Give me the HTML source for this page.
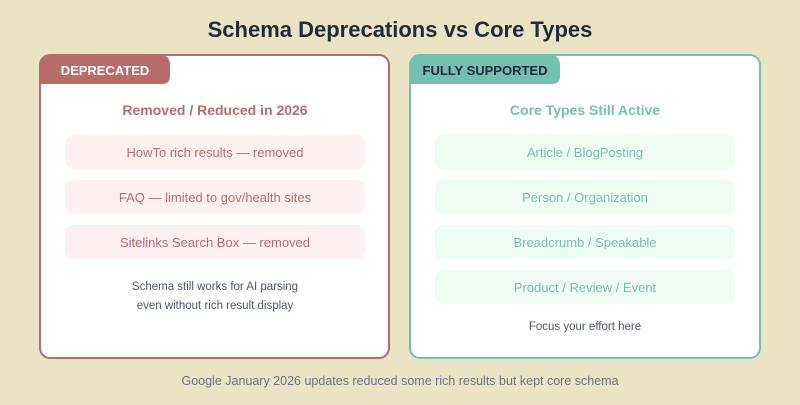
<!DOCTYPE html>
<html><head><style>body{margin:0;background:#ebe4c4}</style></head><body>
<svg width="800" height="400" xmlns="http://www.w3.org/2000/svg" font-family="Liberation Sans, sans-serif">
<rect width="800" height="400" fill="#ebe4c4"/>
<text x="400" y="37" text-anchor="middle" font-size="22" font-weight="bold" fill="#1f2a3a">Schema Deprecations vs Core Types</text>
<rect x="40" y="55" width="349" height="303" rx="10" fill="#fff" stroke="#b86b6b" stroke-width="2"/>
<path d="M50 55 H160 Q170 55 170 65 V76 Q170 84 162 84 H40 V65 Q40 55 50 55 Z" fill="#b86b6b"/>
<text x="105" y="75" text-anchor="middle" font-size="13" font-weight="bold" fill="#fff">DEPRECATED</text>
<text x="215" y="115" text-anchor="middle" font-size="14" font-weight="bold" fill="#b86b6b">Removed / Reduced in 2026</text>
<g fill="#fdf0f0"><rect x="65" y="135" width="300" height="34" rx="8"/><rect x="65" y="180" width="300" height="34" rx="8"/><rect x="65" y="225" width="300" height="34" rx="8"/></g>
<g font-size="13" fill="#b86b6b" text-anchor="middle"><text x="215" y="157">HowTo rich results — removed</text><text x="215" y="202">FAQ — limited to gov/health sites</text><text x="215" y="247">Sitelinks Search Box — removed</text></g>
<g font-size="11.5" fill="#4a5568" text-anchor="middle"><text x="215" y="290">Schema still works for AI parsing</text><text x="215" y="309">even without rich result display</text></g>
<rect x="410" y="55" width="350" height="303" rx="10" fill="#fff" stroke="#76beb0" stroke-width="2"/>
<path d="M420 55 H550 Q560 55 560 65 V76 Q560 84 552 84 H410 V65 Q410 55 420 55 Z" fill="#76beb0"/>
<text x="485" y="75" text-anchor="middle" font-size="13" font-weight="bold" fill="#1f2a3a">FULLY SUPPORTED</text>
<text x="585" y="115" text-anchor="middle" font-size="14" font-weight="bold" fill="#76beb0">Core Types Still Active</text>
<g fill="#effcf4"><rect x="435" y="135" width="300" height="34" rx="8"/><rect x="435" y="180" width="300" height="34" rx="8"/><rect x="435" y="225" width="300" height="34" rx="8"/><rect x="435" y="270" width="300" height="34" rx="8"/></g>
<g font-size="13" fill="#76beb0" text-anchor="middle"><text x="585" y="157">Article / BlogPosting</text><text x="585" y="202">Person / Organization</text><text x="585" y="247">Breadcrumb / Speakable</text><text x="585" y="292">Product / Review / Event</text></g>
<text x="585" y="330" text-anchor="middle" font-size="11.5" fill="#4a5568">Focus your effort here</text>
<text x="400" y="385" text-anchor="middle" font-size="12.5" fill="#6b7280">Google January 2026 updates reduced some rich results but kept core schema</text>
</svg>
</body></html>
